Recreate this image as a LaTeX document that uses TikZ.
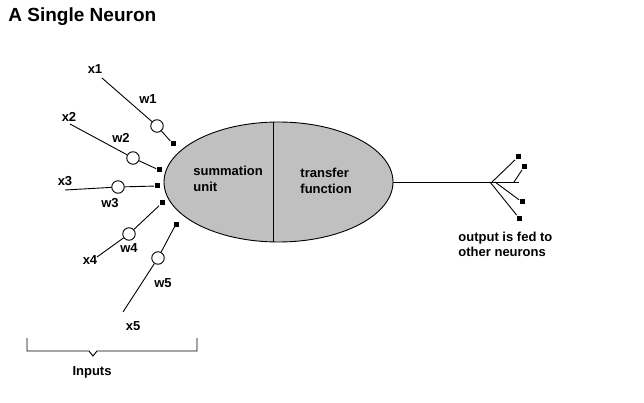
\documentclass[tikz,border=0pt]{standalone}
\usepackage{fontspec}
\setmainfont{Liberation Sans}
\usetikzlibrary{shapes.geometric}
\definecolor{cellgray}{RGB}{192,192,192}
\tikzset{
  label/.style={font=\fontsize{13}{15.5}\selectfont\bfseries, inner sep=0pt},
  weight/.style={circle, draw, fill=white, inner sep=0pt, minimum size=12.5},
  synapse/.style={rectangle, fill=black, inner sep=0pt, minimum size=5}
}
\begin{document}
\begin{tikzpicture}[x=1pt, y=-1pt, line width=0.9pt]
                \useasboundingbox (0,0) rectangle (644,403);
                \node[anchor=west, inner sep=0pt, font=\fontsize{19}{21}\selectfont\bfseries] (title) at (8,17) {A Single Neuron};
                % the cell
                \node[ellipse, draw, fill=cellgray, minimum width=229, minimum height=120, inner sep=0pt] (neuron) at (278.5,182) {};
                \draw ([xshift=-5.5]neuron.north) -- ([xshift=-5.5]neuron.south);
                \node[label, anchor=west, align=left] (sum) at (193,179) {summation\\unit};
                \node[label, anchor=west, align=left] (transfer) at (300,181) {transfer\\function};
                % inputs
                \coordinate (i1) at (102,78);
                \coordinate (i2) at (70,124);
                \coordinate (i3) at (65,190);
                \coordinate (i4) at (97,257);
                \coordinate (i5) at (123,312);
                \node[weight] (w1) at (157,126) {};
                \node[weight] (w2) at (133,158) {};
                \node[weight] (w3) at (118,187) {};
                \node[weight] (w4) at (129,234) {};
                \node[weight] (w5) at (158,258) {};
                \node[synapse] (s1) at (173,144) {};
                \node[synapse] (s2) at (159,170) {};
                \node[synapse] (s3) at (157,186) {};
                \node[synapse] (s4) at (162,203) {};
                \node[synapse] (s5) at (176,224) {};
                \draw (i1) -- (w1) -- (s1);
                \draw (i2) -- (w2) -- (s2);
                \draw (i3) -- (w3) -- (s3);
                \draw (i4) -- (w4) -- (s4);
                \draw (i5) -- (w5) -- (s5);
                \node[label] (x1) at (95,69) {x1};
                \node[label] (x2) at (69,117) {x2};
                \node[label] (x3) at (65,181) {x3};
                \node[label] (x4) at (90,260) {x4};
                \node[label] (x5) at (133,326) {x5};
                \node[label] (lw1) at (148,99) {w1};
                \node[label] (lw2) at (121,138) {w2};
                \node[label] (lw3) at (110,203) {w3};
                \node[label] (lw4) at (129,248) {w4};
                \node[label] (lw5) at (163,283) {w5};
                % output
                \coordinate (out) at (519,182);
                \coordinate (b1) at (492,182);
                \coordinate (b2) at (514,182);
                \coordinate (b3) at (495,182);
                \coordinate (b4) at (490,182);
                \node[synapse] (o1) at (518,157) {};
                \node[synapse] (o2) at (524,167) {};
                \node[synapse] (o3) at (522,202) {};
                \node[synapse] (o4) at (519,218) {};
                \draw (neuron.east) -- (out);
                \draw (b1) -- (o1);
                \draw (b2) -- (o2);
                \draw (b3) -- (o3);
                \draw (b4) -- (o4);
                \node[label, anchor=west, align=left] (fed) at (458,244.5) {output is fed to\\other neurons};
                % brace under the inputs
                \draw (27,338) -- (27,351) -- (89,351) -- (93,356) -- (97,351) -- (197,351) -- (197,338);
                \node[label] (inputs) at (92,372) {Inputs};
            \end{tikzpicture}
\end{document}
